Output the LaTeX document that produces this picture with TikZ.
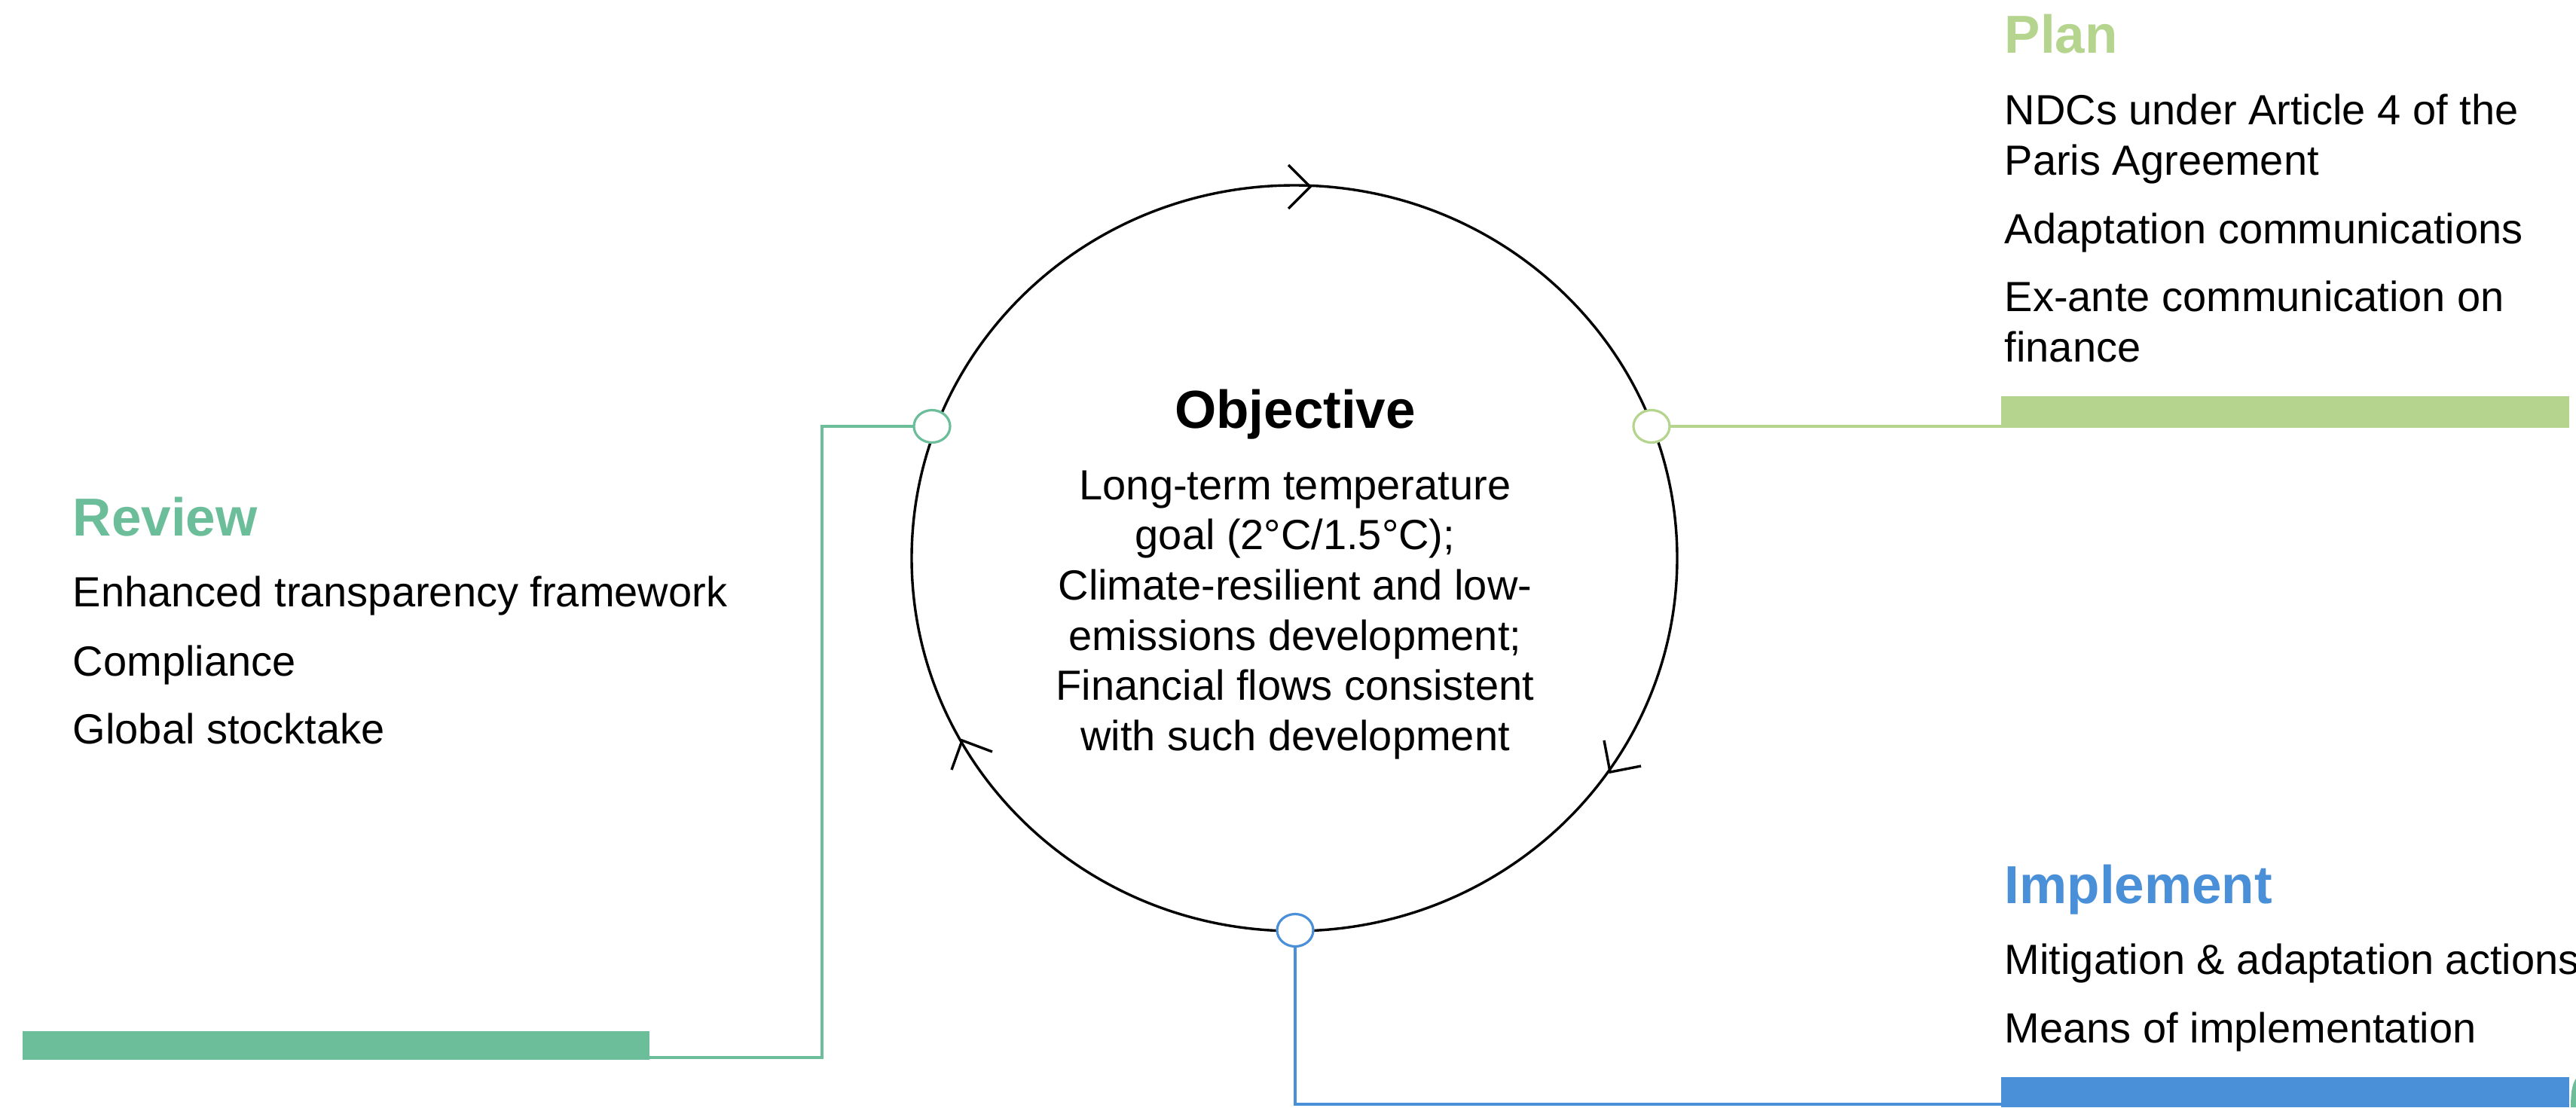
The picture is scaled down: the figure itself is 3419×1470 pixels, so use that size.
\documentclass[tikz,border=0pt]{standalone}
\usepackage{fontspec}
\setmainfont{Liberation Sans}
\usetikzlibrary{shapes.geometric}
\definecolor{revgreen}{HTML}{6BBE99}
\definecolor{plangreen}{HTML}{B5D58E}
\definecolor{implblue}{HTML}{4A90D9}
\begin{document}
\begin{tikzpicture}[x=0.25pt,y=-0.25pt,
  body/.style={font=\fontsize{14}{16.8}\selectfont, inner sep=0pt, anchor=base west},
  ctext/.style={font=\fontsize{14}{16.8}\selectfont, inner sep=0pt, anchor=base},
  ttl/.style={font=\fontsize{17.75}{21}\selectfont\bfseries, inner sep=0pt, anchor=base west},
  port/.style={ellipse, draw, line width=0.8pt, fill=white, minimum width=12pt, minimum height=10.75pt, inner sep=0pt},
  conn/.style={line width=0.8pt},
  barb/.style={line width=0.85pt}
]
\useasboundingbox (0,0) rectangle (3419,1470);
\fill[white] (0,0) rectangle (3419,1470);

% main ring
\node[ellipse, draw, line width=0.85pt, minimum width=254pt, minimum height=247.5pt, inner sep=0pt] (ring) at (1718,741) {};

% arrowheads on the ring
\draw[barb] (1710,219) -- (1739,248) -- (1710,277);
\draw[barb] (2129,983) -- (2137,1025) -- (2178,1017);
\draw[barb] (1317,998) -- (1277,983) -- (1263,1022);

% bars
\fill[plangreen] (2656,526) rectangle (3410,568);
\fill[revgreen] (30,1369) rectangle (862,1407);
\fill[implblue] (2656,1430) rectangle (3410,1470);
\fill[revgreen] (3419,1432) .. controls (3413,1440) and (3412,1455) .. (3412,1470) -- (3419,1470) -- cycle;

\coordinate (planend) at (2656,566);
\coordinate (revend) at (862,1404);
\coordinate (revturn) at (1091,1404);
\coordinate (implturn) at (1719,1466);
\coordinate (implend) at (2656,1466);

% connectors
\draw[conn, plangreen] (2192,566) -- (planend);
\draw[conn, revgreen] (1237,566) -- (1091,566) -- (revturn) -- (revend);
\draw[conn, implblue] (1719,1235) -- (implturn) -- (implend);

% ports
\node[port, draw=revgreen] (pL) at (1237,566) {};
\node[port, draw=plangreen] (pR) at (2192,566) {};
\node[port, draw=implblue] (pB) at (1719,1235) {};

% objective text
\node[ctext, font=\fontsize{17.75}{21}\selectfont\bfseries] (objt) at (1719,568) {Objective};
\node[ctext] (o1) at (1719,663) {Long-term temperature};
\node[ctext] (o2) at (1719,729) {goal (2°C/1.5°C);};
\node[ctext] (o3) at (1719,796) {Climate-resilient and low-};
\node[ctext] (o4) at (1719,863) {emissions development;};
\node[ctext] (o5) at (1719,929) {Financial flows consistent};
\node[ctext] (o6) at (1719,996) {with such development};

% plan
\node[ttl, text=plangreen] (plant) at (2660,70) {Plan};
\node[body] (p1) at (2660,165) {NDCs under Article 4 of the};
\node[body] (p2) at (2660,232) {Paris Agreement};
\node[body] (p3) at (2660,323) {Adaptation communications};
\node[body] (p4) at (2660,413) {Ex-ante communication on};
\node[body] (p5) at (2660,480) {finance};

% review
\node[ttl, text=revgreen] (revt) at (96,711) {Review};
\node[body] (r1) at (96,805) {Enhanced transparency framework};
\node[body] (r2) at (96,897) {Compliance};
\node[body] (r3) at (96,987) {Global stocktake};

% implement
\node[ttl, text=implblue] (implt) at (2660,1199) {Implement};
\node[body] (i1) at (2660,1293) {Mitigation \& adaptation actions};
\node[body] (i2) at (2660,1384) {Means of implementation};
\end{tikzpicture}
\end{document}
